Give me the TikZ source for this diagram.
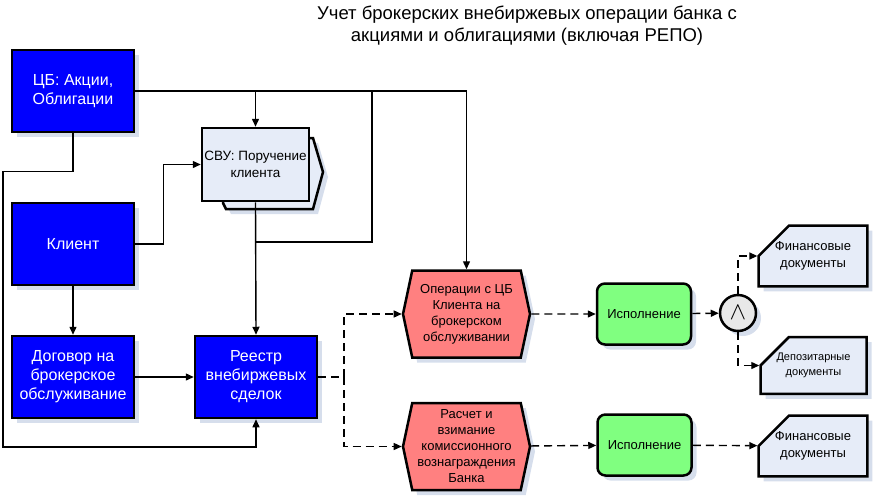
\documentclass[tikz,border=0pt]{standalone}
\usepackage{fontspec}
\setmainfont{Liberation Sans}
\usetikzlibrary{shapes.symbols,shapes.misc,shadows,arrows.meta}
\definecolor{boxblue}{RGB}{0,0,255}
\definecolor{opred}{RGB}{255,128,128}
\definecolor{exgreen}{RGB}{128,255,128}
\definecolor{docfill}{RGB}{230,236,248}
\definecolor{shadowc}{RGB}{214,222,236}
\definecolor{andfill}{RGB}{232,232,232}
\tikzset{
  shad/.style={general shadow={fill=shadowc,shadow xshift=5pt,shadow yshift=-5pt}},
  cbox/.style={draw,line width=2.5pt,fill=boxblue,text=white,shad,inner sep=1pt,
    minimum width=122pt,minimum height=82pt,align=center,font=\fontsize{16}{19}\selectfont},
  carrier/.style={draw,line width=2.5pt,fill=docfill,inner sep=1pt,
    minimum width=107pt,minimum height=73pt,align=center,font=\fontsize{13.5}{17}\selectfont},
  func/.style={draw,line width=2.5pt,fill=opred,shad,shape=signal,signal to=west and east,
    signal pointer angle=156,inner sep=0pt,minimum width=127pt,minimum height=87pt,
    align=center,font=\fontsize{13}{16}\selectfont},
  exec/.style={draw,line width=2.5pt,fill=exgreen,shad,rounded corners=8pt,
    minimum width=94pt,minimum height=61pt,font=\fontsize{13}{16}\selectfont},
  andop/.style={draw,line width=2.5pt,fill=andfill,shad,circle,minimum size=36pt,inner sep=0pt},
  doc/.style={draw,line width=2.5pt,fill=docfill,shad,chamfered rectangle,
    chamfered rectangle corners=north west,chamfered rectangle xsep=17pt,chamfered rectangle ysep=15pt,
    minimum width=106pt,minimum height=50pt,inner sep=1pt,align=center},
  link/.style={line width=1.4pt,-{Triangle[length=8pt,width=7pt]}},
  plain/.style={line width=1.4pt},
  dsh/.style={dash pattern=on 8pt off 5pt}
}
\begin{document}
\begin{tikzpicture}[x=1pt,y=-1pt]
\useasboundingbox (0,0) rectangle (873,496);
\node[align=center,font=\fontsize{18.5}{22}\selectfont] (title) at (527,26)
  {Учет брокерских внебиржевых операции банка с\\акциями и облигациями (включая РЕПО)};

\node[cbox] (cb) at (73,91) {ЦБ: Акции,\\Облигации};
\node[cbox] (kl) at (73,244) {Клиент};
\node[cbox] (dog) at (73,377) {Договор на\\брокерское\\обслуживание};
\node[cbox] (reg) at (256,377) {Реестр\\внебиржевых\\сделок};

\draw[line width=2.5pt,fill=docfill,shad] (223,138) -- (313,138) -- (323,172) -- (313,209)
  -- (226,209) -- (223,203) -- cycle;
\node[carrier] (svu) at (255.5,164.5) {СВУ: Поручение\\клиента};

\node[func] (ops) at (466.5,314) {Операции с ЦБ\\Клиента на\\брокерском\\обслуживании};
\node[func] (calc) at (466.5,446.5) {Расчет и\\взимание\\комиссионного\\вознаграждения\\Банка};
\node[exec] (ex1) at (644,314) {Исполнение};
\node[exec] (ex2) at (644.5,445) {Исполнение};
\node[andop] (andc) at (738,313) {\fontsize{24}{24}\selectfont$\wedge$};
\node[doc,font=\fontsize{13}{17}\selectfont] (fin1) at (813,256) {Финансовые\\документы};
\node[doc,font=\fontsize{11}{15}\selectfont] (dep) at (813.5,365.5) {Депозитарные\\документы};
\node[doc,font=\fontsize{13}{17}\selectfont] (fin2) at (813,446) {Финансовые\\документы};

% solid links
\coordinate (j1) at (372,242);
\coordinate (lb) at (3,447);
\draw[link] (cb.east) -| (ops.north);
\draw[link] (cb.east -| svu.north) -- (svu.north);
\draw[plain] (cb.east -| j1) -- (j1) -- (j1 -| svu.south);
\draw[link] (svu.south) -- (reg.north);
\draw[link] (kl.east) -- ++(28,0) |- (svu.west);
\draw[link] (kl.south) -- (dog.north);
\draw[link] (dog) -- (reg);
\draw[link] (cb.south) -- ++(0,38) -| (lb) -| (reg.south);

% dashed links
\scope[dsh]
\coordinate (sp) at (344,377);
\draw[plain] (reg.east) -- (sp);
\draw[link] (sp) |- (ops.west);
\draw[link] (sp) |- (calc.west);
\draw[link] (ops) -- (ex1);
\draw[link] (ex1) -- (andc);
\draw[link] (andc.north) |- (fin1.west);
\draw[link] (andc.south) |- (dep.west);
\draw[link] (calc) -- (ex2);
\draw[link] (ex2) -- (fin2);
\endscope
\end{tikzpicture}
\end{document}
